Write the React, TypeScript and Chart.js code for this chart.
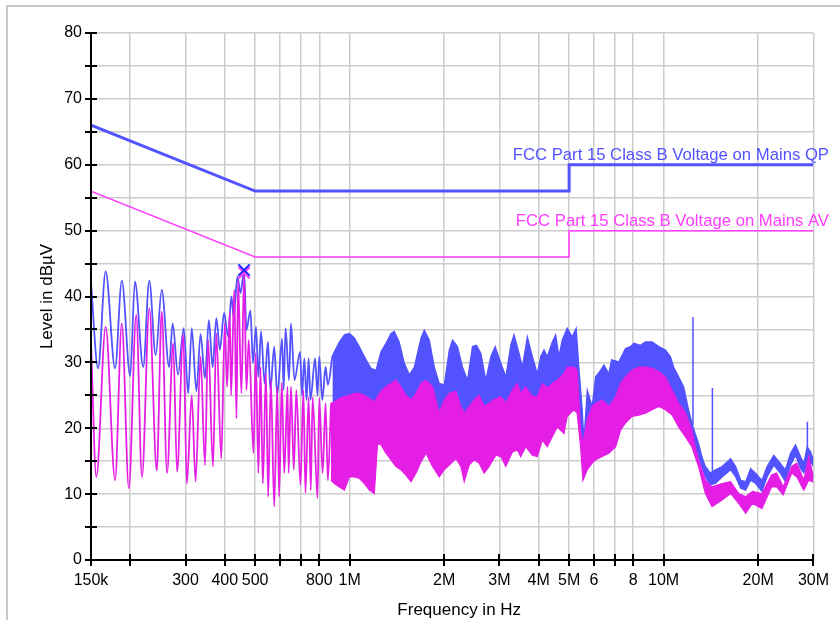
import React, { useEffect, useRef } from 'react';
import { Chart, registerables } from 'chart.js';

Chart.register(...registerables);

// ---------- axes ----------
const xTickValues = [0.15, 0.2, 0.3, 0.4, 0.5, 0.6, 0.7, 0.8, 1, 2, 3, 4, 5, 6, 7, 8, 10, 20, 30];
const xTickLabels = ['150k', '', '300', '400', '500', '', '', '800', '1M', '2M', '3M', '4M', '5M', '6', '', '8', '10M', '20M', '30M'];
const yTickValues = [0, 5, 10, 15, 20, 25, 30, 35, 40, 45, 50, 55, 60, 65, 70, 75, 80];
const yTickLabels = ['0', '', '10', '', '20', '', '30', '', '40', '', '50', '', '60', '', '70', '', '80'];

// ---------- limit lines (MHz, dBµV) ----------
const limitF = [0.15, 0.5, 5, 5, 30];
const qpLimit = [66, 56, 56, 60, 60];
const avLimit = [56, 46, 46, 50, 50];
const qpLabel = 'FCC Part 15 Class B Voltage on Mains QP';
const avLabel = 'FCC Part 15 Class B Voltage on Mains AV';

// ---------- blue (peak) trace: resolved part ----------
const blueLowF = [0.150, 0.158, 0.167, 0.179, 0.188, 0.200, 0.207, 0.220, 0.230, 0.241, 0.252, 0.266, 0.273, 0.284, 0.296, 0.306, 0.314, 0.325, 0.335, 0.346, 0.356, 0.366, 0.376, 0.386, 0.398, 0.410, 0.420, 0.427, 0.439, 0.449, 0.461, 0.469, 0.483, 0.492, 0.503, 0.512, 0.522, 0.536, 0.549, 0.559, 0.575, 0.588, 0.609, 0.616, 0.625, 0.641, 0.650, 0.667, 0.695, 0.705, 0.717, 0.729, 0.740, 0.750, 0.776, 0.790, 0.800, 0.818, 0.838, 0.852, 0.881];
const blueLowL = [42.0, 29.1, 43.8, 29.1, 42.4, 27.9, 42.3, 29.3, 42.4, 31.1, 41.0, 29.3, 35.9, 28.1, 35.2, 25.3, 35.2, 25.6, 34.3, 27.6, 36.4, 29.3, 36.7, 31.9, 37.5, 33.9, 40.0, 36.9, 43.0, 40.5, 43.9, 34.9, 37.9, 29.9, 35.4, 27.8, 34.7, 26.8, 33.1, 25.8, 32.4, 25.0, 33.6, 25.8, 35.2, 27.3, 35.9, 27.3, 31.6, 25.0, 30.6, 24.3, 30.6, 24.3, 30.6, 25.0, 30.9, 24.3, 29.3, 26.6, 31.0];

// ---------- blue trace: dense part (envelope) ----------
const blueBandF = [0.881, 0.894, 0.927, 0.962, 0.998, 1.035, 1.073, 1.128, 1.170, 1.213, 1.258, 1.305, 1.354, 1.387, 1.438, 1.493, 1.549, 1.607, 1.687, 1.729, 1.793, 1.860, 1.929, 2.001, 2.076, 2.126, 2.205, 2.287, 2.373, 2.461, 2.533, 2.617, 2.714, 2.816, 2.906, 3.030, 3.143, 3.259, 3.339, 3.463, 3.548, 3.681, 3.818, 3.960, 4.059, 4.158, 4.261, 4.419, 4.530, 4.641, 4.753, 4.930, 5.114, 5.265, 5.371, 5.505, 5.573, 5.712, 5.920, 6.068, 6.296, 6.450, 6.690, 6.825, 7.198, 7.559, 7.841, 8.034, 8.437, 8.751, 9.187, 9.649, 10.13, 10.51, 10.76, 11.16, 11.58, 12.01, 12.30, 12.60, 12.92, 13.24, 13.58, 14.09, 14.62, 15.35, 16.34, 16.96, 17.60, 18.25, 18.92, 19.62, 20.57, 21.35, 22.43, 23.51, 24.41, 25.36, 26.31, 27.29, 27.95, 28.65, 29.40, 30.0];
const blueBandHi = [31.0, 31.6, 33.1, 34.2, 34.4, 33.7, 32.4, 30.4, 29.1, 28.8, 31.6, 32.9, 34.4, 34.7, 33.1, 29.9, 28.1, 29.3, 33.7, 34.9, 33.4, 29.3, 26.8, 26.6, 31.9, 33.4, 32.4, 29.3, 27.3, 32.4, 32.6, 31.4, 27.3, 30.9, 32.4, 29.9, 27.8, 32.6, 34.2, 31.4, 29.3, 33.9, 30.9, 28.3, 30.9, 31.9, 30.9, 33.1, 34.2, 30.9, 33.4, 35.2, 33.9, 35.2, 29.3, 22.8, 18.2, 25.8, 23.3, 27.8, 28.8, 29.6, 28.3, 30.4, 30.1, 32.1, 32.4, 32.9, 32.6, 33.1, 33.1, 32.4, 31.9, 30.9, 29.3, 27.8, 26.3, 22.8, 20.8, 19.2, 17.7, 15.7, 14.2, 13.2, 13.7, 14.2, 15.4, 14.2, 12.1, 11.9, 13.9, 13.2, 12.1, 14.2, 15.9, 14.7, 13.7, 16.2, 17.5, 15.7, 14.7, 17.2, 16.4, 15.2];
const blueBandLo = [21.0, 21.0, 21.5, 21.5, 21.5, 21.5, 21.5, 21.0, 20.5, 21.0, 21.5, 22.5, 23.0, 23.5, 23.0, 22.0, 21.5, 22.0, 23.5, 24.0, 24.0, 22.5, 20.5, 21.5, 23.0, 23.5, 22.5, 20.5, 20.0, 22.0, 22.0, 21.5, 20.5, 21.5, 22.0, 21.5, 21.0, 22.0, 22.5, 22.0, 21.5, 22.5, 22.0, 22.0, 22.5, 23.0, 22.5, 23.0, 23.5, 23.5, 24.0, 24.5, 25.0, 25.5, 22.0, 18.2, 17.2, 20.2, 20.8, 21.8, 22.3, 22.8, 23.3, 23.8, 24.3, 25.3, 26.1, 26.6, 26.8, 26.8, 26.6, 26.3, 25.6, 24.8, 23.8, 22.5, 21.3, 19.5, 18.2, 17.5, 15.7, 14.2, 12.6, 11.4, 11.6, 12.6, 13.7, 12.6, 10.9, 10.6, 12.1, 11.6, 10.4, 12.6, 14.4, 13.2, 11.9, 14.4, 15.9, 13.9, 13.2, 14.7, 14.9, 14.2];

// ---------- blue single-frequency spikes ----------
const spikeF = [12.4, 14.3, 28.7];
const spikeTop = [36.9, 26.1, 21.0];
const spikeBase = [20.5, 12.5, 16.0];

// ---------- magenta (average) trace: resolved part ----------
const magLowF = [0.150, 0.156, 0.167, 0.179, 0.188, 0.198, 0.209, 0.218, 0.230, 0.243, 0.252, 0.262, 0.274, 0.282, 0.295, 0.303, 0.314, 0.323, 0.335, 0.346, 0.354, 0.367, 0.376, 0.390, 0.400, 0.407, 0.415, 0.419, 0.429, 0.436, 0.441, 0.452, 0.461, 0.469, 0.477, 0.494, 0.502, 0.512, 0.520, 0.529, 0.541, 0.550, 0.561, 0.575, 0.588, 0.596, 0.608, 0.619, 0.634, 0.639, 0.650, 0.664, 0.676, 0.697, 0.712, 0.723, 0.740, 0.752, 0.762, 0.790, 0.800, 0.820, 0.838, 0.852, 0.872];
const magLowL = [32.9, 12.6, 35.4, 12.1, 35.9, 10.9, 37.2, 12.6, 38.2, 13.6, 37.7, 13.2, 32.9, 13.4, 34.2, 11.6, 25.0, 11.9, 30.9, 14.4, 33.4, 14.2, 34.4, 15.4, 35.9, 26.3, 37.6, 25.0, 41.0, 21.5, 42.5, 25.3, 43.3, 25.8, 33.4, 16.2, 31.4, 13.2, 29.3, 11.6, 28.4, 9.6, 27.3, 8.1, 26.3, 9.6, 26.9, 13.2, 26.3, 13.2, 26.3, 13.7, 25.8, 11.4, 25.8, 10.2, 24.7, 10.6, 24.7, 9.4, 24.6, 13.2, 23.8, 12.1, 23.8];

// ---------- magenta trace: dense part (envelope) ----------
const magBandF = [0.872, 0.894, 0.927, 0.962, 0.998, 1.035, 1.073, 1.114, 1.155, 1.198, 1.227, 1.258, 1.305, 1.354, 1.404, 1.456, 1.511, 1.568, 1.627, 1.687, 1.750, 1.793, 1.837, 1.929, 2.001, 2.076, 2.180, 2.260, 2.316, 2.402, 2.492, 2.585, 2.681, 2.781, 2.922, 3.030, 3.143, 3.298, 3.420, 3.506, 3.637, 3.818, 3.960, 4.107, 4.261, 4.419, 4.584, 4.814, 4.930, 5.177, 5.304, 5.438, 5.533, 5.712, 5.920, 6.068, 6.371, 6.690, 7.034, 7.288, 7.559, 7.930, 8.332, 8.751, 9.187, 9.649, 10.13, 10.64, 11.16, 11.74, 12.30, 12.60, 12.92, 13.58, 14.26, 15.35, 16.34, 17.34, 18.25, 19.18, 20.57, 22.07, 22.90, 24.03, 25.59, 26.56, 27.95, 28.98, 30.0];
const magBandHi = [23.8, 24.0, 24.5, 24.8, 25.0, 25.3, 25.3, 25.0, 24.5, 24.0, 24.8, 25.6, 26.3, 26.8, 27.3, 26.3, 25.0, 24.3, 25.3, 26.8, 27.3, 26.8, 26.3, 22.3, 24.3, 25.3, 25.6, 23.3, 22.3, 23.3, 24.3, 25.0, 23.3, 23.8, 24.5, 24.8, 23.8, 25.8, 26.8, 25.3, 26.3, 24.8, 24.8, 26.8, 26.1, 26.8, 27.3, 28.3, 29.3, 29.3, 28.8, 19.7, 17.7, 21.3, 23.3, 23.8, 24.3, 23.3, 24.8, 26.8, 27.8, 28.8, 29.3, 29.3, 29.1, 28.6, 27.8, 25.8, 23.8, 22.3, 19.7, 17.2, 15.2, 12.1, 11.1, 11.6, 11.9, 10.1, 9.6, 10.4, 10.1, 12.9, 13.2, 11.1, 14.2, 14.7, 12.1, 15.7, 12.6];
const magBandLo = [12.1, 11.6, 11.1, 10.6, 12.6, 12.6, 12.4, 11.6, 10.6, 10.1, 17.7, 17.5, 16.2, 15.2, 14.2, 13.7, 12.9, 11.9, 13.2, 14.9, 16.2, 15.2, 14.2, 12.6, 13.7, 14.4, 15.4, 14.2, 11.9, 14.4, 15.2, 14.7, 13.2, 14.2, 15.9, 15.7, 14.2, 16.4, 16.7, 15.7, 17.2, 15.9, 15.7, 18.2, 17.2, 18.7, 20.2, 19.2, 21.8, 22.8, 22.3, 17.2, 12.1, 13.7, 14.7, 15.2, 15.7, 16.2, 17.2, 19.7, 20.8, 21.8, 22.0, 22.3, 22.8, 23.3, 22.8, 22.0, 20.2, 18.7, 17.2, 15.7, 14.2, 10.1, 8.1, 9.1, 10.1, 8.6, 7.1, 8.6, 7.8, 11.1, 11.1, 9.9, 13.2, 12.6, 10.6, 12.1, 11.8];

// ---------- max-peak marker ----------
const markerF = [0.461];
const markerBlueL = [44.0];
const markerMagL = [43.6];

const BLUE = 'rgb(82,82,255)';
const MAGENTA = 'rgb(228,30,228)';
const AV_COLOR = 'rgb(255,60,255)';
const GRID = 'rgb(204,204,204)';
const FONT = '"Liberation Sans", Arial, Helvetica, sans-serif';

const pts = (f: number[], l: number[]) => {
  const n = Math.min(f.length, l.length);
  const out: { x: number; y: number }[] = [];
  for (let i = 0; i < n; i++) out.push({ x: f[i], y: l[i] });
  return out;
};

const decorPlugin = {
  id: 'decor',
  beforeDraw(chart: any) {
    const ctx = chart.ctx;
    ctx.save();
    ctx.fillStyle = '#ffffff';
    ctx.fillRect(0, 0, chart.width, chart.height);
    ctx.strokeStyle = 'rgb(200,200,200)';
    ctx.lineWidth = 2;
    ctx.beginPath();
    ctx.moveTo(7, chart.height);
    ctx.lineTo(7, 6);
    ctx.lineTo(chart.width, 6);
    ctx.stroke();
    ctx.restore();
  },
  afterDraw(chart: any) {
    const { ctx, chartArea: a, scales } = chart;
    const xs = scales.x;
    const ys = scales.y;
    ctx.save();
    ctx.strokeStyle = '#000';
    ctx.lineWidth = 2;
    ctx.beginPath();
    ctx.moveTo(a.left, a.top);
    ctx.lineTo(a.left, a.bottom);
    ctx.lineTo(a.right, a.bottom);
    ctx.stroke();
    ctx.beginPath();
    for (const v of yTickValues) {
      const py = Math.round(ys.getPixelForValue(v));
      ctx.moveTo(a.left - 6, py);
      ctx.lineTo(a.left + 6, py);
    }
    for (const v of xTickValues) {
      const px = Math.round(xs.getPixelForValue(v));
      ctx.moveTo(px, a.bottom - 6);
      ctx.lineTo(px, a.bottom + 6);
    }
    ctx.stroke();

    ctx.fillStyle = '#000';
    ctx.font = `17px ${FONT}`;
    ctx.textAlign = 'center';
    ctx.textBaseline = 'alphabetic';
    ctx.fillText('Frequency in Hz', (a.left + a.right) / 2 + 7, 615);
    ctx.save();
    ctx.translate(52, (a.top + a.bottom) / 2);
    ctx.rotate(-Math.PI / 2);
    ctx.fillText('Level in dBµV', 0, 0);
    ctx.restore();

    ctx.textAlign = 'right';
    ctx.font = `16.7px ${FONT}`;
    ctx.fillStyle = BLUE;
    ctx.fillText(qpLabel, 829, ys.getPixelForValue(qpLimit[4]) - 5);
    ctx.fillStyle = AV_COLOR;
    ctx.fillText(avLabel, 829, ys.getPixelForValue(avLimit[4]) - 5);
    ctx.restore();
  },
};

export default function App() {
  const ref = useRef<HTMLCanvasElement>(null);

  useEffect(() => {
    const canvas = ref.current;
    if (!canvas) return;

    const base = (data: any[], color: string, width: number, order: number, extra: any = {}) => ({
      type: 'line',
      data,
      borderColor: color,
      backgroundColor: color,
      borderWidth: width,
      pointRadius: 0,
      tension: 0,
      fill: false,
      order,
      ...extra,
    });
    const smooth = { cubicInterpolationMode: 'monotone' };

    const datasets: any[] = [
      // 0,1: blue band
      base(pts(blueBandF, blueBandHi), BLUE, 1.2, 6, { fill: '+1' }),
      base(pts(blueBandF, blueBandLo), BLUE, 1.2, 6),
      // 2: blue resolved part
      base(pts(blueLowF, blueLowL), BLUE, 1.8, 6, smooth),
      // 3,4: magenta band
      base(pts(magBandF, magBandHi), MAGENTA, 1.2, 4, { fill: '+1' }),
      base(pts(magBandF, magBandLo), MAGENTA, 1.2, 4),
      // 5: magenta resolved part
      base(pts(magLowF, magLowL), MAGENTA, 1.8, 4, smooth),
      // limits
      base(pts(limitF, qpLimit), BLUE, 3, 2),
      base(pts(limitF, avLimit), AV_COLOR, 1.5, 2),
      // markers
      base(pts(markerF, markerMagL), AV_COLOR, 2, 1, { showLine: false, pointStyle: 'crossRot', pointRadius: 8 }),
      base(pts(markerF, markerBlueL), 'rgb(40,40,255)', 2, 0, { showLine: false, pointStyle: 'crossRot', pointRadius: 8 }),
    ];
    spikeF.forEach((f, i) => {
      datasets.push(base([{ x: f, y: spikeBase[i] }, { x: f, y: spikeTop[i] }], BLUE, 1.5, 5));
    });

    const chart = new Chart(canvas, {
      type: 'line',
      data: { datasets },
      options: {
        animation: false,
        responsive: false,
        devicePixelRatio: 1,
        events: [],
        layout: { padding: { left: 0, top: 33, right: 25, bottom: 0 } },
        plugins: {
          legend: { display: false },
          tooltip: { enabled: false },
          title: { display: false },
        },
        scales: {
          x: {
            type: 'logarithmic',
            min: 0.15,
            max: 30,
            afterBuildTicks: (scale: any) => {
              scale.ticks = xTickValues.map((v) => ({ value: v }));
            },
            afterFit: (scale: any) => {
              scale.height = 60;
            },
            ticks: {
              autoSkip: false,
              maxRotation: 0,
              minRotation: 0,
              padding: 11,
              color: '#000',
              font: { family: FONT, size: 16 },
              callback: (_v: any, i: number) => xTickLabels[i],
            },
            grid: { color: GRID, lineWidth: 1.5, drawTicks: false },
            border: { display: false },
          },
          y: {
            type: 'linear',
            min: 0,
            max: 80,
            afterBuildTicks: (scale: any) => {
              scale.ticks = yTickValues.map((v) => ({ value: v }));
            },
            afterFit: (scale: any) => {
              scale.width = 91;
            },
            ticks: {
              autoSkip: false,
              padding: 9,
              color: '#000',
              font: { family: FONT, size: 16 },
              callback: (_v: any, i: number) => yTickLabels[i],
            },
            grid: { color: GRID, lineWidth: 1.5, drawTicks: false },
            border: { display: false },
          },
        },
      } as any,
      plugins: [decorPlugin],
    } as any);

    return () => chart.destroy();
  }, []);

  return (
    <div style={{ position: 'absolute', left: 0, top: 0, width: 840, height: 620, background: '#fff' }}>
      <canvas ref={ref} width={840} height={620} style={{ display: 'block' }} />
    </div>
  );
}
